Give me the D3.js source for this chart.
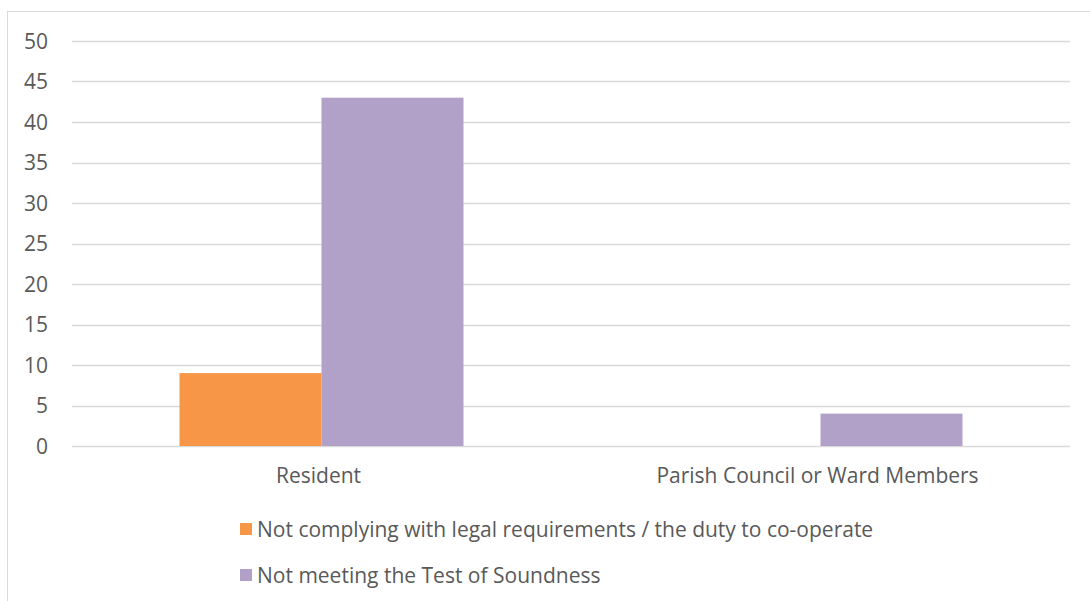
<!DOCTYPE html>
<html><head><meta charset="utf-8">
<script src="https://cdn.jsdelivr.net/npm/d3@7"></script>
<style>
body{margin:0;background:#fff;}
text{font-family:"Open Sans","Noto Sans",sans-serif;fill:#595959;}
</style></head>
<body>
<svg id="chart" width="1090" height="601"></svg>
<script>
const categories = ["Resident", "Parish Council or Ward Members"];
const seriesNames = ["Not complying with legal requirements / the duty to co-operate", "Not meeting the Test of Soundness"];
const legalValues = [9, 0];
const soundnessValues = [43, 4];
const yTicks = [0, 5, 10, 15, 20, 25, 30, 35, 40, 45, 50];
const colors = ["#F79646", "#B1A0C7"];

const seriesValues = [legalValues, soundnessValues];
const svg = d3.select("#chart");
const fontSize = 21;

// chart border
svg.append("rect").attr("x", 7.5).attr("y", 11.5).attr("width", 1100).attr("height", 620)
  .attr("fill", "none").attr("stroke", "#d9d9d9").attr("stroke-width", 1);

const plotLeft = 72, plotRight = 1070, plotTop = 41, plotBottom = 446;
const y = d3.scaleLinear().domain([0, 50]).range([plotBottom, plotTop]);
const x0 = d3.scaleBand().domain(categories).range([plotLeft, plotRight]).padding(0);
const x1 = d3.scaleBand().domain(seriesNames).range([0, x0.bandwidth()]).paddingInner(0).paddingOuter(0.757);

// gridlines
svg.append("g").selectAll("line").data(yTicks).join("line")
  .attr("x1", plotLeft).attr("x2", plotRight)
  .attr("y1", d => Math.round(y(d)) + 0.5).attr("y2", d => Math.round(y(d)) + 0.5)
  .attr("stroke", "#d9d9d9").attr("stroke-width", 1.3);

// y axis labels
const yAxis = d3.axisLeft(y).tickValues(yTicks).tickSize(0).tickPadding(0);
const gy = svg.append("g").attr("transform", `translate(48,0)`).call(yAxis);
gy.select(".domain").remove();
gy.selectAll("text").attr("font-size", fontSize).attr("font-family", '"Open Sans","Noto Sans",sans-serif').attr("fill", "#595959").attr("dy", "0.35em");

// bars
const data = [];
categories.forEach((c, i) => seriesNames.forEach((s, j) => data.push({c, s, j, v: seriesValues[j][i]})));
svg.append("g").selectAll("rect").data(data.filter(d => d.v > 0)).join("rect")
  .attr("x", d => x0(d.c) + x1(d.s))
  .attr("width", x1.bandwidth())
  .attr("y", d => y(d.v))
  .attr("height", d => y(0) - y(d.v))
  .attr("fill", d => colors[d.j]);

// x axis labels
const xAxis = d3.axisBottom(x0).tickSize(0).tickPadding(0);
const gx = svg.append("g").attr("transform", `translate(-3,${plotBottom + 37})`).call(xAxis);
gx.select(".domain").remove();
gx.selectAll("text").attr("font-size", fontSize).attr("font-family", '"Open Sans","Noto Sans",sans-serif').attr("fill", "#595959").attr("dy", 0);

// legend
const legend = svg.append("g").selectAll("g").data(seriesNames).join("g")
  .attr("transform", (d, i) => `translate(240,${523 + i * 46})`);
legend.append("rect").attr("width", 12).attr("height", 12).attr("fill", (d, i) => colors[i]);
legend.append("text").attr("x", 17).attr("y", 14).attr("font-size", fontSize).text(d => d);
</script>
</body></html>
